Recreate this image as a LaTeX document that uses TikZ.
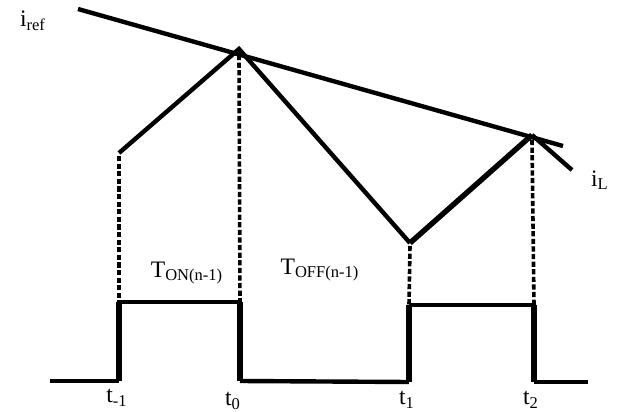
\documentclass[tikz,border=0pt]{standalone}
\usepackage{fontspec}
\setmainfont{Liberation Serif}
\usetikzlibrary{calc}

\begin{document}
\begin{tikzpicture}[
  x=0.5pt, y=-0.5pt,
  every node/.style={font=\fontsize{11.8}{13}\selectfont, inner sep=1pt},
  wave/.style={line width=2.2pt, line join=miter},
  edge/.style={line width=3.2pt},
  guide/.style={line width=1.8pt, dash pattern=on 2.6pt off 1.2pt}
]
\useasboundingbox (0,0) rectangle (617,412);

% inductor current and reference
\coordinate (r0) at (78,9);
\coordinate (r1) at (563,146);
\coordinate (c0) at (119,153);
\coordinate (p0) at (239,49);
\coordinate (v1) at (410,243);
\coordinate (p1) at (532,135);
\coordinate (c1) at (572,170);

\draw[wave] (r0) -- (r1);
\draw[wave] (c0) -- (p0) -- (v1);
\draw[line width=2.7pt] (v1) -- (p1);
\draw[wave] (p1) -- (c1);

% gate pulses
\coordinate (b0) at (50,381);
\coordinate (u0) at (119,302);
\coordinate (d0) at (240,302);
\coordinate (u1) at (409,305);
\coordinate (d1) at (534,305);
\coordinate (b1) at (588,382);

\draw[wave] (b0) -- (b0 -| u0);
\draw[edge] (b0 -| u0) -- (u0);
\draw[line width=1.7pt] (u0) -- (d0);
\draw[edge] (d0) -- (d0 |- b0);
\draw[wave] (d0 |- b0) -- (u1 |- b1);
\draw[edge] (u1 |- b1) -- (u1);
\draw[line width=1.7pt] (u1) -- (d1);
\draw[edge] (d1) -- (d1 |- b1);
\draw[wave] (d1 |- b1) -- (b1);

% switching instants
\draw[guide] (c0) ++(0,3) -- (u0);
\draw[guide] (p0) ++(0,6) -- (d0);
\draw[guide] (v1) ++(0,3) -- (u1);
\draw[guide] (p1) ++(0,5) -- (d1);

% labels
\node (iref) at (33,21) {i\textsubscript{ref}};
\node (iL) at (600,180) {i\textsubscript{L}};
\node (ton) at (187,273) {T\textsubscript{ON(n-1)}};
\node (toff) at (320,270) {T\textsubscript{OFF(n-1)}};
\node (tm1) at (117,398) {t\textsubscript{-1}};
\node (t0) at (233,401) {t\textsubscript{0}};
\node (t1) at (407,400) {t\textsubscript{1}};
\node (t2) at (531,400) {t\textsubscript{2}};
\end{tikzpicture}
\end{document}
